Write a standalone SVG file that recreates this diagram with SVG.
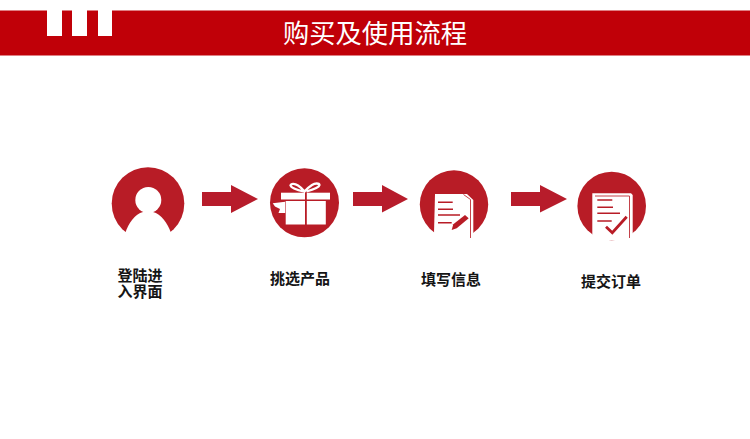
<svg xmlns="http://www.w3.org/2000/svg" width="750" height="439" viewBox="0 0 750 439">
<style>
text{font-family:"Noto Sans CJK SC","Liberation Sans",sans-serif;text-anchor:middle}
.lbl{font-size:15px;font-weight:700;fill:#151515}
.c{fill:#b81c26}
.w{fill:#fff}
.ln{stroke:#b81c26;stroke-width:1.500;fill:none}
.thin{stroke:#c4424a;stroke-width:1;fill:none}
.arr{fill:#b71c2b}
</style>
<rect width="750" height="439" fill="#fff"/>
<g id="header">
<rect x="0" y="10.500" width="750" height="45" fill="#c00008"/>
<rect class="w" x="47" y="10" width="15" height="26"/>
<rect class="w" x="72" y="10" width="15" height="26"/>
<rect class="w" x="98" y="10" width="14" height="26"/>
<text x="375" y="43" font-size="26.300" fill="#fff">购买及使用流程</text>
</g>
<g id="connectors">
<polygon class="arr" points="202,192 231,192 231,185 258,199 231,213 231,206 202,206"/>
<polygon class="arr" points="353,192 382,192 382,185 408,199 382,212.500 382,206 353,206"/>
<polygon class="arr" points="511,192 540,192 540,185 567,199 540,212.500 540,206 511,206"/>
</g>
<g id="node-login">
<circle class="c" cx="148" cy="203.500" r="36.300"/>
<rect class="w" x="108" y="232" width="80" height="12"/>
<path class="w" d="M125.500,232.500 C128,224 135,214 143,212 L153,212 C161,214 168,224 170.800,232.500 Z"/>
<circle class="w" cx="148.300" cy="200" r="13"/>
<text class="lbl"><tspan x="140" y="280.500">登陆进</tspan><tspan x="140" y="297">入界面</tspan></text>
</g>
<g id="node-pick">
<circle class="c" cx="304.500" cy="202.800" r="34.500"/>
<rect class="w" x="281" y="192.700" width="24" height="6.800"/>
<rect class="w" x="306.800" y="192.700" width="23.200" height="6.800"/>
<rect class="w" x="285.700" y="201" width="19.300" height="23.500"/>
<rect class="w" x="306.800" y="201" width="19" height="23.500"/>
<path d="M304.500,191.500 C297,190 291,187.500 290.500,185.500 C291,183 295,183.500 298,185.500 C301,187.500 303,189.500 304.500,191.500 C306,189.500 309,187 312,185 C315,183 319,183 319.500,185 C319,187.500 312,190 306.500,191.500" fill="none" stroke="#fff" stroke-width="2.300"/>
<path class="w" d="M272.700,203.300 L285.200,201.700 L285.200,213 L278.500,213 L280,209 L275,206.500 Z"/>
<text class="lbl" x="300" y="284">挑选产品</text>
</g>
<g id="node-fill">
<circle class="c" cx="454" cy="204.500" r="34.200"/>
<path class="w" d="M435,194 L467,194 L473.300,200 L473.300,239.500 L434,239.500 L434,233.500 Z"/>
<path class="thin" d="M463.500,194.500 L470.500,199.500 L470.500,238"/>
<path class="ln" d="M438,202.300 H452.700 M438,209.300 H453 M438,215 H460 M438,222.700 H451.700"/>
<path class="c" d="M453.300,224.300 L465,215 L468.700,218.300 L456.700,228.300 L451.700,230 Z"/>
<text class="lbl" x="451" y="285">填写信息</text>
</g>
<g id="node-submit">
<circle class="c" cx="611.700" cy="206" r="34.300"/>
<path class="w" d="M592.300,193.300 L631,193.300 L632.700,195 L632.700,240 L592.300,240 Z"/>
<path class="thin" d="M595,196 H629.500 V238"/>
<path class="ln" d="M597.300,200 H612.300 M597.300,207.300 H613 M597.300,213.300 H620 M597.300,221 H611.700"/>
<path d="M606,226.700 L612.300,232.700 L626.700,216.700" fill="none" stroke="#b81c26" stroke-width="2.800"/>
<text class="lbl" x="611" y="287">提交订单</text>
</g>
</svg>
